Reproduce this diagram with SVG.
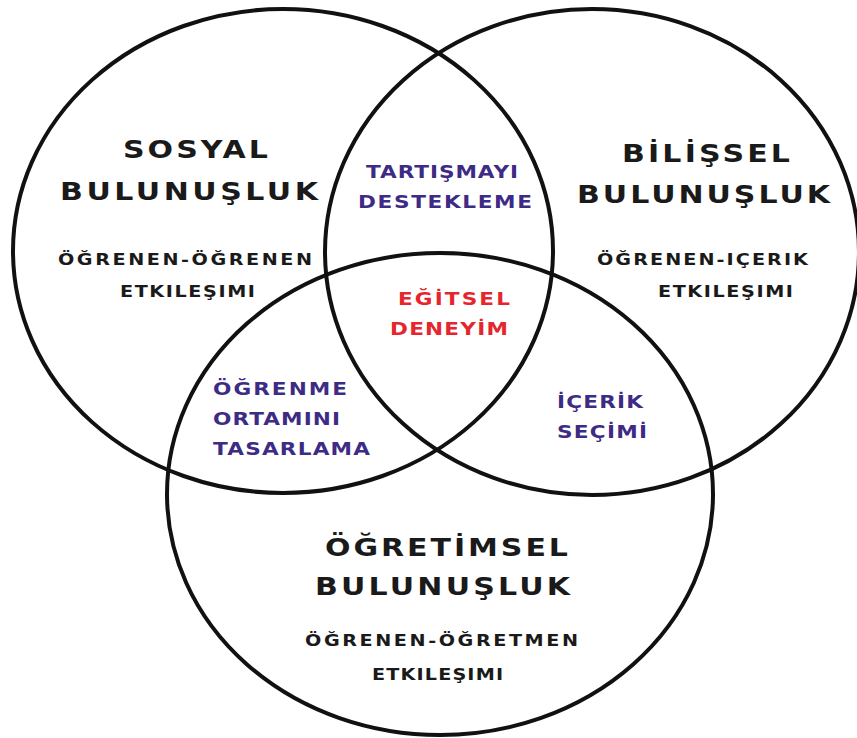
<svg xmlns="http://www.w3.org/2000/svg" width="857" height="738" viewBox="0 0 857 738">
<style>
.ring{fill:none;stroke:#111;stroke-width:4}
text{font-family:"DejaVu Sans","Liberation Sans",sans-serif;font-weight:bold}
.t{font-size:25px;fill:#1a1a1a}
.s{font-size:16px;fill:#1a1a1a}
.p{font-size:18px;fill:#3d2b85}
.r{font-size:18px;fill:#e5262d}
</style>
<rect width="857" height="738" fill="#fff"/>
<g id="sosyal">
<ellipse class="ring" cx="283" cy="251" rx="270" ry="242"/>
<text class="t" transform="translate(123,158) scale(1.2,1)" textLength="120.8" lengthAdjust="spacing">SOSYAL</text>
<text class="t" transform="translate(60,200) scale(1.2,1)" textLength="215" lengthAdjust="spacing">BULUNUŞLUK</text>
<text class="s" transform="translate(58,265) scale(1.2,1)" textLength="211.7" lengthAdjust="spacing">ÖĞRENEN-ÖĞRENEN</text>
<text class="s" transform="translate(120,297) scale(1.2,1)" textLength="112.5" lengthAdjust="spacing">ETKILEŞIMI</text>
</g>
<g id="bilissel">
<ellipse class="ring" cx="592" cy="252" rx="267" ry="243"/>
<text class="t" transform="translate(622,162) scale(1.2,1)" textLength="140" lengthAdjust="spacing">BİLİŞSEL</text>
<text class="t" transform="translate(577,203) scale(1.2,1)" textLength="210.8" lengthAdjust="spacing">BULUNUŞLUK</text>
<text class="s" transform="translate(597,265) scale(1.2,1)" textLength="175.8" lengthAdjust="spacing">ÖĞRENEN-IÇERIK</text>
<text class="s" transform="translate(658,297) scale(1.2,1)" textLength="112.5" lengthAdjust="spacing">ETKILEŞIMI</text>
</g>
<g id="ogretimsel">
<ellipse class="ring" cx="440" cy="494" rx="273" ry="241"/>
<text class="t" transform="translate(325,556) scale(1.2,1)" textLength="202.5" lengthAdjust="spacing">ÖĞRETİMSEL</text>
<text class="t" transform="translate(315,595) scale(1.2,1)" textLength="212.5" lengthAdjust="spacing">BULUNUŞLUK</text>
<text class="s" transform="translate(305,646) scale(1.2,1)" textLength="227.5" lengthAdjust="spacing">ÖĞRENEN-ÖĞRETMEN</text>
<text class="s" transform="translate(372,680) scale(1.2,1)" textLength="109.2" lengthAdjust="spacing">ETKILEŞIMI</text>
</g>
<g id="tartisma">
<text class="p" transform="translate(366,178) scale(1.2,1)" textLength="126.7" lengthAdjust="spacing">TARTIŞMAYI</text>
<text class="p" transform="translate(358,208) scale(1.2,1)" textLength="145" lengthAdjust="spacing">DESTEKLEME</text>
</g>
<g id="egitsel">
<text class="r" transform="translate(398,305) scale(1.2,1)" textLength="93.3" lengthAdjust="spacing">EĞİTSEL</text>
<text class="r" transform="translate(390,335) scale(1.2,1)" textLength="98.3" lengthAdjust="spacing">DENEYİM</text>
</g>
<g id="ortam">
<text class="p" transform="translate(213,395) scale(1.2,1)" textLength="111.7" lengthAdjust="spacing">ÖĞRENME</text>
<text class="p" transform="translate(213,425) scale(1.2,1)" textLength="105.8" lengthAdjust="spacing">ORTAMINI</text>
<text class="p" transform="translate(213,455) scale(1.2,1)" textLength="130.8" lengthAdjust="spacing">TASARLAMA</text>
</g>
<g id="icerik">
<text class="p" transform="translate(557,408) scale(1.2,1)" textLength="71.7" lengthAdjust="spacing">İÇERİK</text>
<text class="p" transform="translate(557,438) scale(1.2,1)" textLength="75" lengthAdjust="spacing">SEÇİMİ</text>
</g>
<g id="connectors"/>
</svg>
